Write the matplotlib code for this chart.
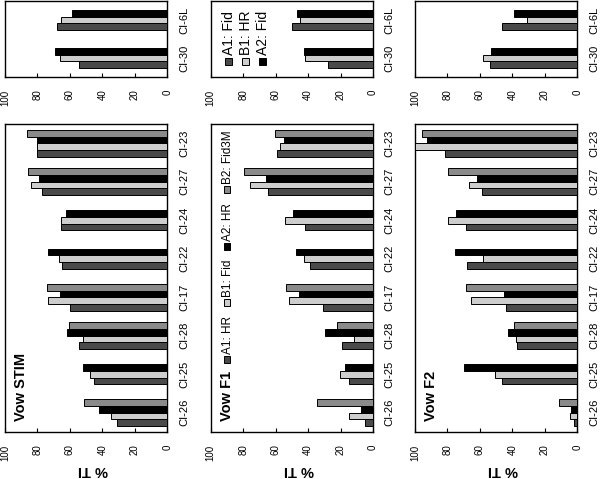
import numpy as np
import matplotlib
matplotlib.use("Agg")
import matplotlib.pyplot as plt
from matplotlib.patches import Rectangle

nan = np.nan

# ---------------- data ----------------
cats_main = ['CI-26', 'CI-25', 'CI-28', 'CI-17', 'CI-22', 'CI-24', 'CI-27', 'CI-23']
cats_small = ['CI-30', 'CI-6L']
ticks = [0, 20, 40, 60, 80, 100]
tick_labels = ['0', '20', '40', '60', '80', '100']

titles = ['Vow STIM', 'Vow F1', 'Vow F2']
series_names = ['A1', 'B1', 'A2', 'B2']
legend_main = ['A1: HR', 'B1: Fid', 'A2: HR', 'B2: Fid3M']
legend_small = ['A1: Fid', 'B1: HR', 'A2: Fid']
ylabel = '% TI'

# STIM
stim_A1 = [31.3, 45.0, 54.7, 60.2, 64.7, 65.5, 77.0, 80.0]
stim_B1 = [34.8, 47.7, 52.2, 73.3, 67.0, 65.5, 84.0, 80.5]
stim_A2 = [42.2, 52.2, 61.8, 66.0, 73.7, 62.7, 79.0, 80.0]
stim_B2 = [51.2, nan, 60.4, 74.0, nan, nan, 85.7, 86.7]
stim_small_A1 = [54.6, 68.0]
stim_small_B1 = [66.0, 65.5]
stim_small_A2 = [69.0, 59.0]

# F1
f1_A1 = [4.8, 15.0, 19.0, 31.0, 38.8, 42.0, 65.0, 59.0]
f1_B1 = [14.5, 20.6, 12.0, 52.0, 42.5, 54.5, 75.5, 57.5]
f1_A2 = [7.3, 17.1, 29.4, 45.6, 47.3, 49.0, 65.7, 54.6]
f1_B2 = [34.8, nan, 22.4, 53.8, nan, nan, 79.7, 60.6]
f1_small_A1 = [27.8, 49.7]
f1_small_B1 = [41.9, 44.8]
f1_small_A2 = [42.3, 46.6]

# F2
f2_A1 = [1.8, 46.5, 37.2, 43.8, 67.7, 68.7, 58.5, 81.5]
f2_B1 = [4.7, 51.0, 38.0, 65.4, 57.8, 79.4, 66.5, 100.0]
f2_A2 = [3.9, 69.7, 43.0, 45.2, 75.3, 74.7, 61.5, 92.4]
f2_B2 = [11.5, nan, 38.7, 68.7, nan, nan, 79.4, 95.5]
f2_small_A1 = [54.0, 46.5]
f2_small_B1 = [58.2, 30.7]
f2_small_A2 = [53.3, 38.8]

main_data = [
    [stim_A1, stim_B1, stim_A2, stim_B2],
    [f1_A1, f1_B1, f1_A2, f1_B2],
    [f2_A1, f2_B1, f2_A2, f2_B2],
]
small_data = [
    [stim_small_A1, stim_small_B1, stim_small_A2],
    [f1_small_A1, f1_small_B1, f1_small_A2],
    [f2_small_A1, f2_small_B1, f2_small_A2],
]

colors = ['#4a4a4a', '#cdcdcd', '#000000', '#8a8a8a']

# ---------------- fonts ----------------
SANS = 'Liberation Sans'
plt.rcParams['font.family'] = [SANS, 'DejaVu Sans']

W, H = 600, 479
fig = plt.figure(figsize=(W / 100, H / 100), dpi=100)


def add_ax(l, t, r, b):
    return fig.add_axes([l / W, 1 - b / H, (r - l) / W, (b - t) / H])


col_left = [5.0, 210.7, 415.0]
col_w = 162.3
bar_h = 0.175


def draw_bars(ax, data, ncat):
    arr = np.array(data, dtype=float)
    counts = np.sum(~np.isnan(arr), axis=0)
    base = np.arange(ncat)
    for s in range(arr.shape[0]):
        vals = arr[s]
        pos = base + (s - (counts - 1) / 2.0) * bar_h
        m = ~np.isnan(vals)
        ax.barh(pos[m], vals[m], height=bar_h, color=colors[s],
                edgecolor='black', linewidth=0.7, zorder=3, clip_on=False)


def style_ax(ax, cats):
    ax.set_xlim(100, 0)
    ax.set_ylim(-0.5, len(cats) - 0.5)
    ax.set_xticks(ticks)
    ax.set_xticklabels(tick_labels, rotation=90, fontsize=7)
    ax.tick_params(axis='x', direction='in', length=3, width=0.8, pad=9,
                   bottom=True, top=False)
    ax.yaxis.tick_right()
    ax.set_yticks(np.arange(len(cats)))
    ax.set_yticklabels(cats, rotation=90, fontsize=8, va='center')
    ax.tick_params(axis='y', length=0, pad=8.5)
    for sp in ax.spines.values():
        sp.set_linewidth(1.0)
        sp.set_color('black')


renderer = fig.canvas.get_renderer()


def px2in(x, y):
    return x / 100.0, (H - y) / 100.0


def rot_text(x, y, s, **kw):
    xi, yi = px2in(x, y)
    return fig.text(xi, yi, s, rotation=90, rotation_mode='anchor',
                    ha='left', va='baseline', transform=fig.dpi_scale_trans, **kw)


def marker(xc, ybot, size, color):
    xi, yi = px2in(xc - size / 2.0, ybot)
    r = Rectangle((xi, yi), size / 100.0, size / 100.0, facecolor=color,
                  edgecolor='black', linewidth=0.7, transform=fig.dpi_scale_trans)
    fig.add_artist(r)


for c in range(3):
    l = col_left[c]
    r = l + col_w
    axL = add_ax(l, 124, r, 432)
    axS = add_ax(l, 1, r, 77)
    draw_bars(axL, main_data[c], len(cats_main))
    draw_bars(axS, small_data[c], len(cats_small))
    style_ax(axL, cats_main)
    style_ax(axS, cats_small)

    # axis label (upside down)
    xi, yi = px2in(l + col_w / 2 + 7, 470)
    fig.text(xi, yi, ylabel, rotation=180, ha='center', va='center',
             fontsize=10.5, fontweight='bold', transform=fig.dpi_scale_trans)

    # title (and legend on F1)
    base_x = l + 20
    t = rot_text(base_x, 421, titles[c], fontsize=10.5, fontweight='bold')
    if c == 1:
        cur = 421 - t.get_window_extent(renderer).height - 8
        ms = 6.5
        for s, name in enumerate(legend_main):
            marker(base_x - 3.5, cur, ms, colors[s])
            cur -= ms + 2.5
            tt = rot_text(base_x, cur, name, fontsize=8.5)
            cur -= tt.get_window_extent(renderer).height + 10
        # small legend
        for s, name in enumerate(legend_small):
            bx = l + 22 + s * 17
            ms = 7
            marker(bx - 4.5, 65, ms, colors[s])
            rot_text(bx, 65 - ms - 2.5, name, fontsize=10)

fig.savefig('out.png', dpi=100)
